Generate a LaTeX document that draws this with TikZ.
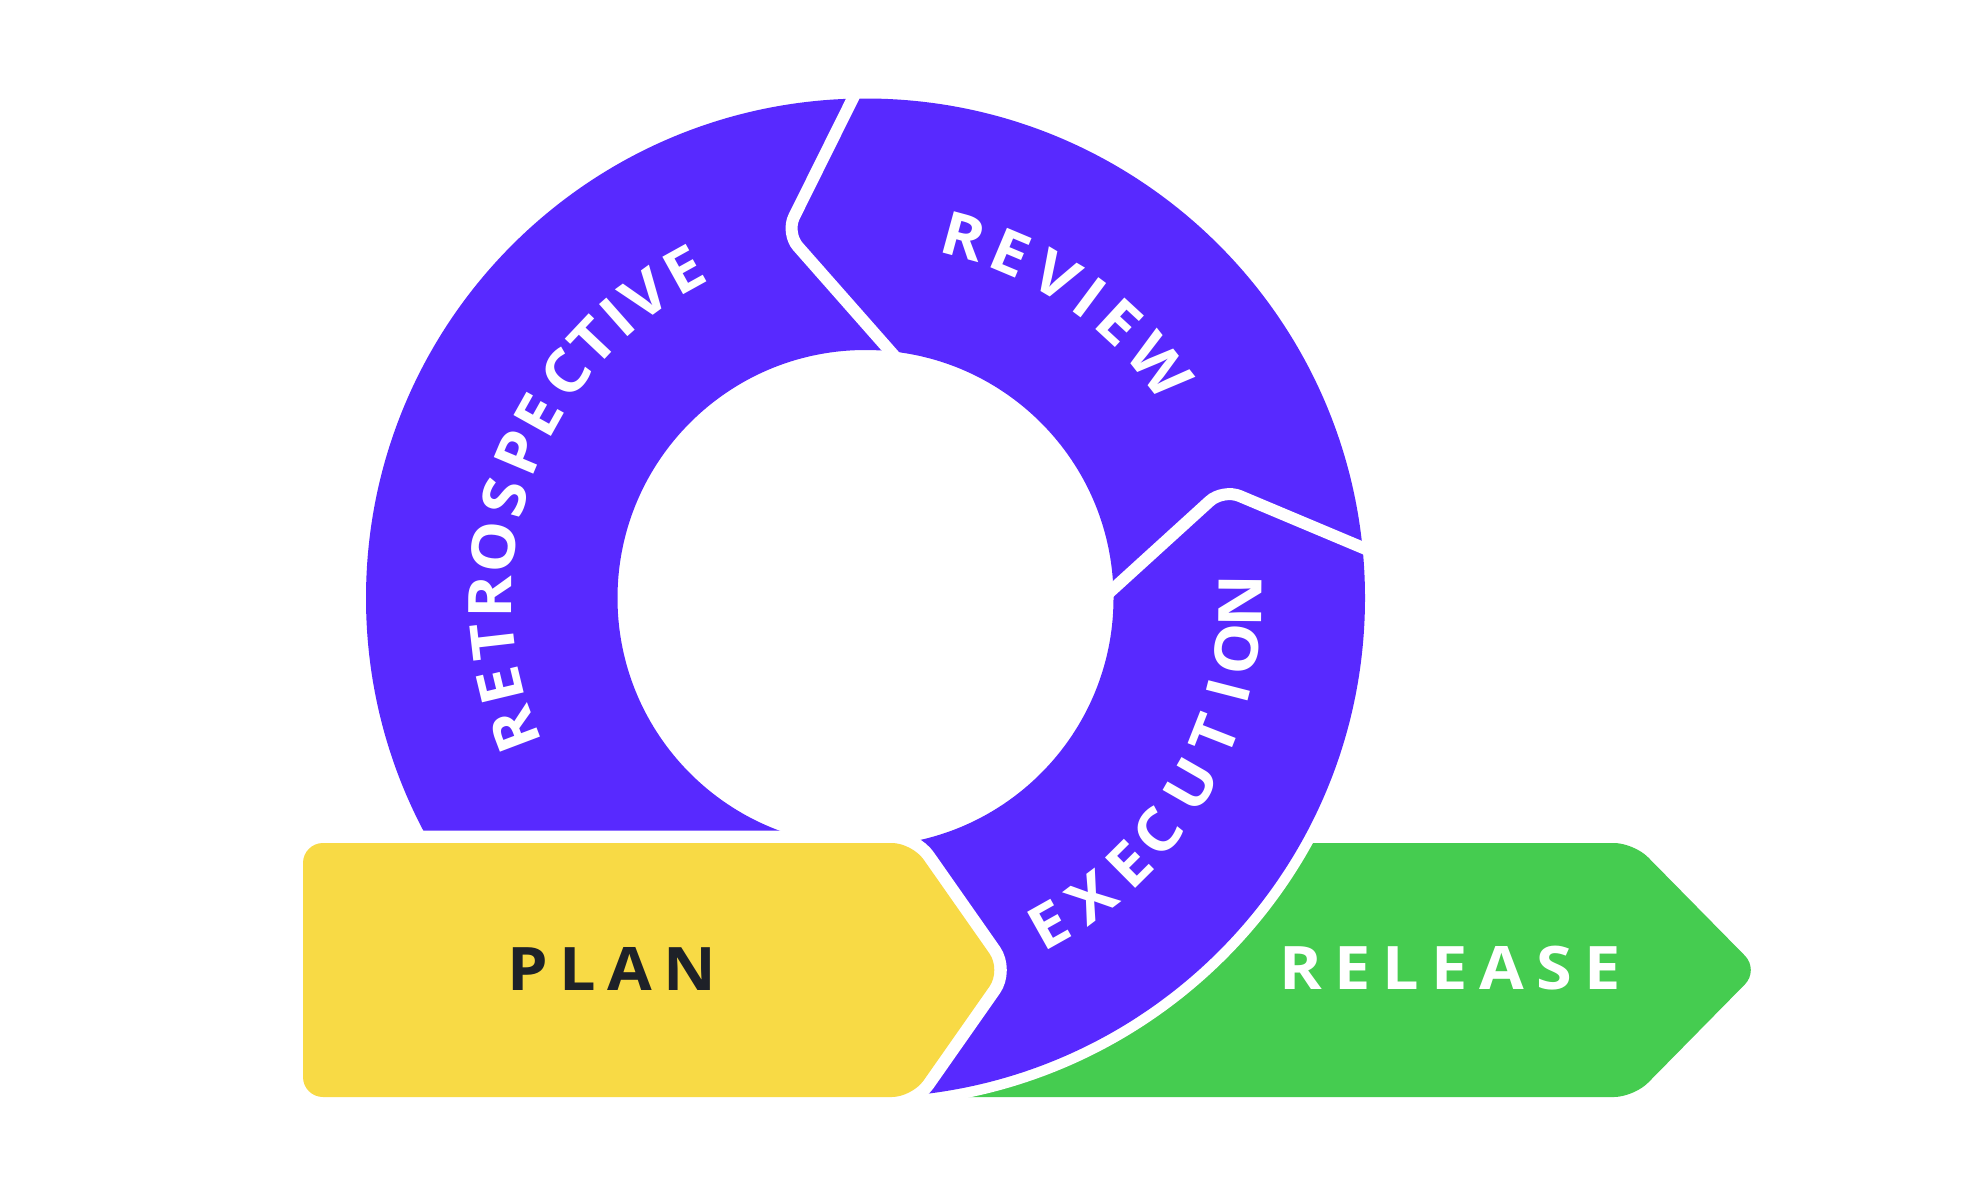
\documentclass[tikz,border=0pt]{standalone}
\usepackage{fontspec}
\setmainfont{Open Sans}[FakeStretch=1.08]
\definecolor{ringblue}{HTML}{5829FF}
\definecolor{planyellow}{HTML}{F8DA45}
\definecolor{relgreen}{HTML}{45CC50}
\definecolor{plantext}{HTML}{1E2128}
\begin{document}
\begin{tikzpicture}[x=1pt,y=-1pt,
  lt/.style={text=white,font=\fontsize{60}{72}\selectfont\bfseries,inner sep=0pt,anchor=center},
  gapline/.style={white,line width=12,rounded corners=18}]
\useasboundingbox (0,0) rectangle (1968,1200);
\fill[white] (0,0) rectangle (1968,1200);
% release arrow
\fill[relgreen,rounded corners=20] (1200,843) -- (1634,843) -- (1759,970) -- (1634,1097) -- (900,1097) -- (900,843) -- cycle;
\fill[white] (865.5,598) circle[radius=510];
% ring
\fill[ringblue,even odd rule] (865.5,598) circle[radius=499.5] (865.5,598) circle[radius=248];
% gaps between segments
\draw[gapline] (858,88) -- (786,233) -- (905,368);
\draw[gapline] (1380,555) -- (1223,489) -- (1101,600);
% plan arrow
\path[rounded corners=20,preaction={draw=white,line width=25},fill=planyellow]
  (600,843) -- (912,843) -- (1001,970) -- (912,1097) -- (303,1097) -- (303,843) -- cycle;
% labels
\node[lt,text=plantext] (plan) at (611.5,968.5) {P\kern0.19em L\kern0.19em A\kern0.19em N};
\node[lt] (release) at (1450,968.5) {R\kern0.2em E\kern0.2em L\kern0.2em E\kern0.2em A\kern0.2em S\kern0.2em E};
\foreach \a/\l [count=\i] in {200.7/R,193.5/E,186.6/T,179.8/R,172.2/O,164.4/S,157.2/P,150.8/E,143.1/C,136.7/T,131.5/I,126.0/V,119.0/E}
  \node[lt,rotate=\a-90] (retro\i) at ({865.5+375*cos(\a)},{598-375*sin(\a)}) {\l};
\foreach \a/\l [count=\i] in {74.8/R,67.2/E,59.3/V,53.3/I,47.3/E,38.2/W}
  \node[lt,rotate=\a-90] (review\i) at ({865.5+375*cos(\a)},{598-375*sin(\a)}) {\l};
\foreach \a/\l [count=\i] in {299.3/E,307.1/X,314.8/E,321.3/C,330.2/U,338.6/T,345.6/I,352.2/O,359.5/N}
  \node[lt,rotate=\a+90] (exec\i) at ({865.5+375*cos(\a)},{598-375*sin(\a)}) {\l};
\end{tikzpicture}
\end{document}
